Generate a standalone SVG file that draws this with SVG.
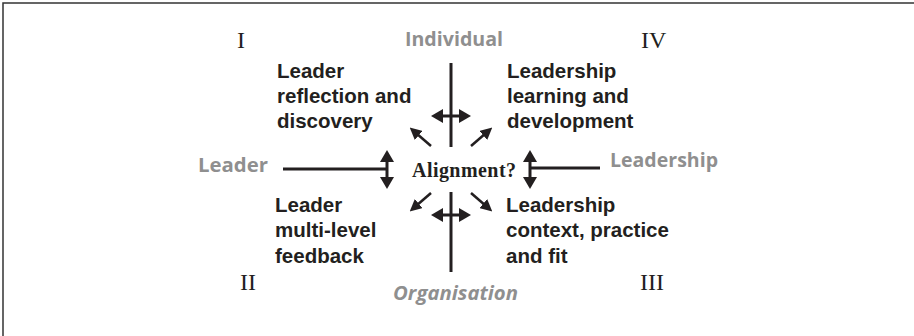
<svg xmlns="http://www.w3.org/2000/svg" width="914" height="336" viewBox="0 0 914 336">
<style>
.lbl{font-family:"Liberation Sans",Arial,sans-serif;font-weight:bold;font-size:20.5px;fill:#231f20}
.ax{font-family:"Open Sans","DejaVu Sans",sans-serif;font-weight:700;font-size:19px;fill:#8f8f8f}
.num{font-family:"Liberation Serif","Times New Roman",serif;font-size:24px;fill:#231f20}
.ctr{font-family:"Liberation Serif","Times New Roman",serif;font-weight:bold;font-size:20px;fill:#231f20}
.ln{stroke:#231f20;stroke-width:3;fill:none}
.ar{stroke:#231f20;stroke-width:3;fill:none}
.dg{stroke:#231f20;stroke-width:2.5;fill:none}
</style>
<defs>
<marker id="ah" viewBox="0 0 12 14" refX="1" refY="7" markerWidth="12" markerHeight="14" markerUnits="userSpaceOnUse" orient="auto-start-reverse">
<path d="M0,0 L12,7 L0,14 z" fill="#231f20"/>
</marker>
<marker id="ahs" viewBox="0 0 12 12" refX="1" refY="6" markerWidth="12" markerHeight="12" markerUnits="userSpaceOnUse" orient="auto">
<path d="M0,0 L12,6 L0,12 z" fill="#231f20"/>
</marker>
</defs>
<rect x="3" y="3" width="920" height="400" fill="#fff" stroke="#333" stroke-width="1.5"/>
<g id="connectors">
<line class="ln" x1="451" y1="63" x2="451" y2="147"/>
<line class="ln" x1="451" y1="192" x2="451" y2="272"/>
<line class="ln" x1="283" y1="169" x2="387" y2="169"/>
<line class="ln" x1="530" y1="168" x2="600" y2="168"/>
<line class="ar" x1="442" y1="116" x2="460" y2="116" marker-start="url(#ah)" marker-end="url(#ah)"/>
<line class="ar" x1="442" y1="215" x2="460" y2="215" marker-start="url(#ah)" marker-end="url(#ah)"/>
<line class="ar" x1="387" y1="161" x2="387" y2="178" marker-start="url(#ah)" marker-end="url(#ah)"/>
<line class="ar" x1="530" y1="161" x2="530" y2="178" marker-start="url(#ah)" marker-end="url(#ah)"/>
<line class="dg" x1="431" y1="146" x2="418" y2="134.7" marker-end="url(#ahs)"/>
<line class="dg" x1="471" y1="146" x2="484" y2="134.7" marker-end="url(#ahs)"/>
<line class="dg" x1="431" y1="193" x2="418" y2="204.3" marker-end="url(#ahs)"/>
<line class="dg" x1="471" y1="193" x2="484" y2="204.3" marker-end="url(#ahs)"/>
</g>
<g id="center"><text class="ctr" x="412" y="177" textLength="104">Alignment?</text></g>
<g id="axis-individual"><text class="ax" x="405" y="46" textLength="98" lengthAdjust="spacingAndGlyphs">Individual</text></g>
<g id="axis-leader"><text class="ax" x="198" y="172" textLength="70" lengthAdjust="spacingAndGlyphs">Leader</text></g>
<g id="axis-leadership"><text class="ax" x="610" y="167" textLength="108" lengthAdjust="spacingAndGlyphs">Leadership</text></g>
<g id="axis-organisation"><text class="ax" x="393" y="300" textLength="125" lengthAdjust="spacingAndGlyphs" font-style="italic">Organisation</text></g>
<g id="q1">
<text class="num" x="237" y="48">I</text>
<text class="lbl" x="277" y="78">Leader</text>
<text class="lbl" x="277" y="103">reflection and</text>
<text class="lbl" x="277" y="128">discovery</text>
</g>
<g id="q4">
<text class="num" x="641" y="48">IV</text>
<text class="lbl" x="507" y="78">Leadership</text>
<text class="lbl" x="507" y="103">learning and</text>
<text class="lbl" x="507" y="128">development</text>
</g>
<g id="q2">
<text class="num" x="240" y="290">II</text>
<text class="lbl" x="275" y="212">Leader</text>
<text class="lbl" x="275" y="237">multi-level</text>
<text class="lbl" x="275" y="263">feedback</text>
</g>
<g id="q3">
<text class="num" x="640" y="290">III</text>
<text class="lbl" x="506" y="212">Leadership</text>
<text class="lbl" x="506" y="237">context, practice</text>
<text class="lbl" x="506" y="263">and fit</text>
</g>
</svg>
